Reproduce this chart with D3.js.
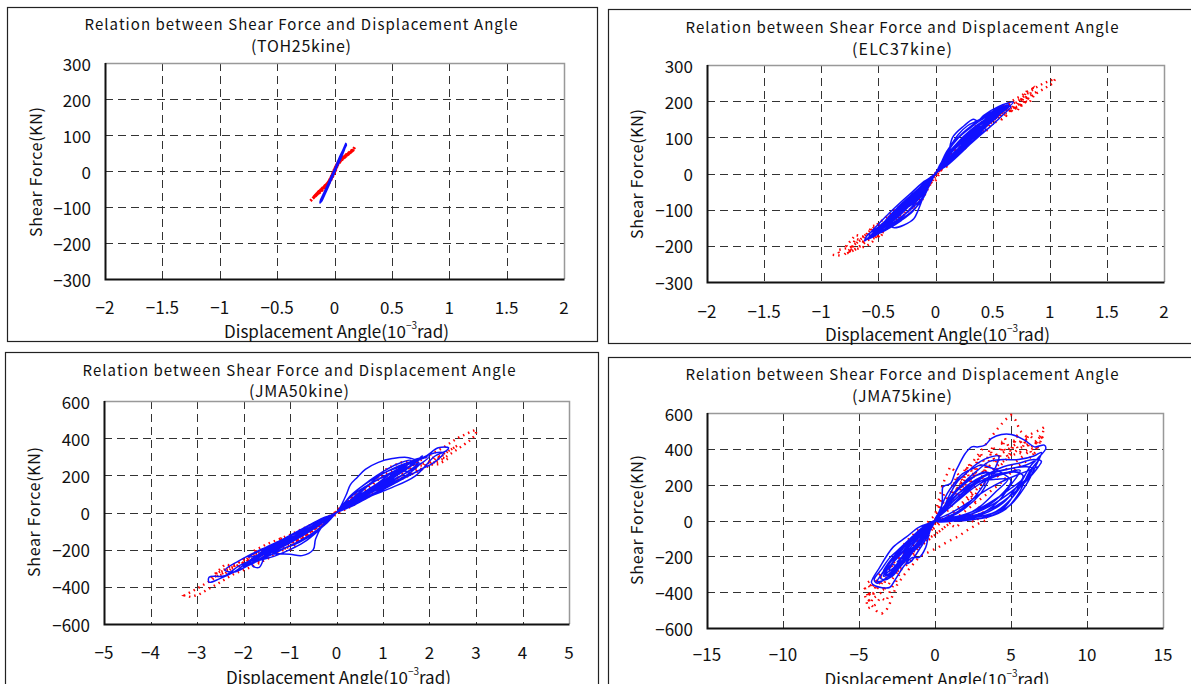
<!DOCTYPE html>
<html>
<head>
<meta charset="utf-8">
<script src="https://cdn.jsdelivr.net/npm/d3@7"></script>
<style>
  body { margin: 0; background: #fff; }
  svg { display: block; }
  text { font-family: "Noto Sans CJK JP", "Noto Sans", sans-serif; fill: #111; }
</style>
</head>
<body>
<svg id="chart" width="1191" height="684"></svg>
<script>
// ---- data: displacement angle (10^-3 rad), shear force (KN) ----
// blue = solid line series, red = dotted line series
var toh_blue = [[0,0],[0.05,38],[0.10,75],[0.06,44],[0.01,8],[-0.04,-30],[-0.09,-62],[-0.125,-88],[-0.10,-70],[-0.05,-36],[0,-2],[0.04,30],[0.08,58],[0.05,36],[0,2],[-0.05,-34],[-0.11,-76],[-0.07,-50],[-0.02,-14],[0.03,22],[0.07,52],[0.09,66],[0.04,28],[-0.02,-12],[-0.08,-56],[-0.12,-82],[-0.06,-42],[0,0],
  [0.05,34],[0.095,70],[0.055,42],[0.005,4],[-0.05,-38],[-0.115,-84],[-0.08,-58],[-0.03,-22],[0.02,14],[0.06,46],[0.1,72],[0.05,40],[0,0]];
var toh_red = [[-0.21,-83],[-0.17,-70],[-0.12,-55],[-0.08,-42],[-0.05,-30],[-0.02,-10],[0,5],[0.02,18],[0.05,30],[0.09,40],[0.13,50],[0.17,60],[0.175,65],[0.14,54],[0.1,44],[0.06,34],[0.03,24],[0.01,12],[-0.01,-4],[-0.03,-18],[-0.06,-34],[-0.1,-46],[-0.15,-62],[-0.19,-76],[-0.16,-68],[-0.11,-50],[-0.07,-38],[-0.03,-22],[0,-2],[0.02,14],[0.06,30],[0.11,44],[0.15,55],[0.12,48],[0.07,36],[0.03,22],[0,0],
  [-0.04,-26],[-0.09,-44],[-0.14,-58],[-0.18,-72],[-0.13,-60],[-0.08,-46],[-0.04,-30],[0,-6],[0.03,20],[0.07,34],[0.12,46],[0.16,57],[0.13,52],[0.08,40],[0.04,28],[0.01,10],[0,0]];

var elc_blue = [[0,0],[0.1,38],[0.2,70],[0.3,100],[0.4,128],[0.48,150],[0.4,120],[0.3,88],[0.2,58],[0.1,28],[0,0],
  [-0.1,-35],[-0.2,-68],[-0.3,-100],[-0.4,-130],[-0.32,-98],[-0.22,-66],[-0.12,-34],[0,0],
  [0.1,42],[0.15,100],[0.25,132],[0.33,150],[0.37,145],[0.42,160],[0.55,185],[0.68,197],[0.62,178],[0.5,150],[0.38,118],[0.25,80],[0.12,40],[0,2],
  [-0.1,-60],[-0.15,-100],[-0.19,-125],[-0.28,-143],[-0.36,-150],[-0.46,-140],[-0.55,-165],[-0.62,-187],[-0.6,-172],[-0.5,-148],[-0.38,-115],[-0.25,-78],[-0.12,-40],[0,0],
  [0.12,55],[0.22,90],[0.35,125],[0.5,160],[0.62,185],[0.55,162],[0.42,128],[0.3,95],[0.18,58],[0.06,18],[0,0],
  [-0.1,-42],[-0.22,-85],[-0.35,-120],[-0.48,-152],[-0.56,-175],[-0.5,-158],[-0.38,-122],[-0.25,-85],[-0.12,-45],[0,0],
  [0.1,45],[0.2,82],[0.3,112],[0.45,150],[0.58,180],[0.5,155],[0.38,120],[0.26,85],[0.14,46],[0,0],
  [-0.12,-48],[-0.25,-95],[-0.4,-135],[-0.5,-160],[-0.42,-130],[-0.3,-95],[-0.15,-52],[0,-2],
  [0.08,35],[0.18,72],[0.3,108],[0.4,130],[0.34,108],[0.22,72],[0.1,32],[0,0],
  [-0.08,-35],[-0.18,-72],[-0.3,-110],[-0.36,-122],[-0.28,-90],[-0.16,-55],[-0.05,-18],[0,0],
  [0.1,48],[0.2,85],[0.32,120],[0.52,170],[0.64,190],[0.56,166],[0.44,135],[0.3,98],[0.15,50],[0,0],
  [-0.1,-45],[-0.2,-80],[-0.32,-118],[-0.45,-150],[-0.58,-180],[-0.52,-160],[-0.4,-125],[-0.26,-82],[-0.1,-32],[0,0],
  [0.05,30],[0.15,62],[0.25,90],[0.35,118],[0.45,142],[0.54,168],[0.47,140],[0.36,108],[0.24,72],[0.12,36],[0,0],
  [-0.06,-28],[-0.16,-62],[-0.26,-92],[-0.38,-125],[-0.46,-148],[-0.4,-126],[-0.3,-96],[-0.18,-60],[-0.06,-22],[0,0],
  [0.1,50],[0.2,88],[0.3,118],[0.4,142],[0.5,162],[0.6,182],[0.52,158],[0.4,126],[0.28,90],[0.16,52],[0,0],
  [-0.1,-50],[-0.2,-90],[-0.3,-122],[-0.42,-148],[-0.52,-170],[-0.6,-182],[-0.54,-164],[-0.42,-134],[-0.3,-100],[-0.18,-62],[-0.06,-20],[0,0],
  [0.12,70],[0.2,108],[0.28,132],[0.38,148],[0.5,172],[0.6,186],[0.5,158],[0.38,124],[0.26,86],[0.12,40],[0,0],
  [-0.05,-25],[-0.12,-55],[-0.22,-86],[-0.32,-112],[-0.26,-84],[-0.16,-50],[-0.06,-18],[0,0],
  [0.08,40],[0.16,74],[0.26,104],[0.36,126],[0.44,145],[0.38,120],[0.28,88],[0.16,52],[0.06,18],[0,0],
  [0.1,25],[0.2,50],[0.3,80],[0.4,108],[0.5,135],[0.6,165],[0.66,185],[0.6,185],[0.5,170],[0.4,150],[0.3,128],[0.2,100],[0.1,62],[0,0],
  [-0.1,-22],[-0.2,-50],[-0.3,-78],[-0.4,-108],[-0.5,-140],[-0.58,-170],[-0.52,-168],[-0.42,-150],[-0.32,-130],[-0.22,-108],[-0.12,-75],[0,0],
  [0.1,30],[0.2,60],[0.3,92],[0.4,118],[0.5,145],[0.55,160],[0.5,165],[0.4,148],[0.3,125],[0.2,98],[0.1,58],[0,0],
  [-0.1,-28],[-0.2,-58],[-0.3,-88],[-0.4,-120],[-0.48,-148],[-0.42,-145],[-0.32,-125],[-0.22,-100],[-0.12,-68],[0,0],
  [0.06,18],[0.16,45],[0.26,72],[0.36,100],[0.44,122],[0.38,120],[0.28,105],[0.18,80],[0.08,45],[0,0],
  [-0.06,-20],[-0.16,-48],[-0.26,-78],[-0.34,-100],[-0.28,-98],[-0.18,-80],[-0.08,-45],[0,0],
  [0.15,80],[0.25,115],[0.35,140],[0.45,160],[0.55,178],[0.5,150],[0.4,115],[0.3,82],[0.2,50],[0.1,22],[0,0],
  [-0.12,-70],[-0.2,-105],[-0.3,-130],[-0.4,-150],[-0.5,-165],[-0.45,-135],[-0.35,-100],[-0.25,-70],[-0.15,-42],[-0.05,-12],[0,0]];
var elc_red = [[-0.9,-225],[-0.83,-227],[-0.86,-212],[-0.75,-205],[-0.68,-190],[-0.6,-170],[-0.5,-150],[-0.4,-125],[-0.3,-100],[-0.2,-72],[-0.1,-52],[-0.05,-30],[0,-10],[0.05,15],[0.15,45],[0.25,75],[0.35,110],[0.45,140],[0.55,165],[0.62,185],[0.72,200],[0.8,220],[0.88,238],[0.95,250],[1.05,262],[1.02,248],[0.9,225],[0.8,205],[0.7,185],[0.6,170],[0.5,150],[0.4,125],[0.3,98],[0.2,62],[0.1,30],[0,-5],[-0.08,-50],[-0.12,-75],[-0.2,-95],[-0.3,-115],[-0.4,-140],[-0.5,-165],[-0.55,-188],[-0.6,-200],[-0.7,-210],[-0.8,-225],[-0.7,-195],[-0.58,-160],[-0.45,-125],[-0.33,-95],[-0.2,-60],[-0.08,-25],[0.02,8],[0.15,50],[0.3,95],[0.42,128],[0.55,158],[0.7,180],[0.8,200],[0.85,235],[0.75,215],[0.6,188],[0.5,170],[0.4,140],[0.28,100],[0.15,58],[0.04,18],[0,0],
  [0.1,20],[0.18,60],[0.26,70],[0.34,115],[0.42,118],[0.5,160],[0.58,150],[0.65,190],[0.72,175],[0.8,230],[0.78,190],[0.6,175],[0.52,140],[0.45,150],[0.36,100],[0.28,95],[0.2,55],[0.1,40],[0,-20],[-0.1,-35],[-0.15,-80],[-0.25,-75],[-0.32,-120],[-0.4,-115],[-0.48,-160],[-0.55,-150],[-0.62,-190],[-0.7,-180],[-0.75,-215],[-0.65,-200],[-0.55,-170],[-0.48,-175],[-0.4,-130],[-0.3,-110],[-0.22,-70],[-0.12,-60],[0,0],
  [0.2,80],[0.3,90],[0.4,140],[0.5,140],[0.6,190],[0.68,170],[0.75,205],[0.82,195],[0.88,225],[0.8,210],[0.7,195],[0.62,160],[0.55,175],[0.45,120],[0.35,130],[0.25,80],[0.12,50],[0,0],[-0.15,-45],[-0.25,-90],[-0.35,-95],[-0.45,-140],[-0.55,-145],[-0.62,-175],[-0.7,-170],[-0.78,-200],[-0.72,-215],[-0.6,-185],[-0.5,-175],[-0.42,-150],[-0.3,-120],[-0.2,-95],[-0.1,-55],[0,0]];

var jma50_blue = [[0,0],[0.3,50],[0.6,100],[0.9,150],[1.2,195],[0.9,140],[0.6,90],[0.3,40],[0,0],
  [-0.3,-45],[-0.6,-95],[-0.9,-140],[-1.2,-175],[-0.9,-130],[-0.6,-85],[-0.3,-40],[0,0],
  [0.2,90],[0.3,150],[0.45,190],[0.62,232],[0.9,270],[1.2,290],[1.55,295],[1.76,268],[1.5,215],[1.2,170],[0.9,130],[0.6,90],[0.3,45],[0,0],
  [-0.3,-70],[-0.45,-143],[-0.5,-200],[-0.74,-232],[-1.0,-225],[-1.31,-223],[-1.52,-232],[-1.66,-295],[-1.81,-286],[-1.7,-230],[-1.4,-180],[-1.1,-140],[-0.8,-105],[-0.5,-70],[-0.2,-25],[0,0],
  [0.4,70],[0.8,130],[1.2,200],[1.69,286],[1.9,300],[2.19,348],[2.41,348],[2.35,330],[2.12,304],[1.69,196],[1.19,134],[0.8,95],[0.4,50],[0,0],
  [-0.4,-60],[-0.8,-120],[-1.2,-170],[-1.6,-230],[-2.09,-286],[-2.4,-340],[-2.74,-348],[-2.74,-375],[-2.52,-357],[-2.2,-320],[-1.88,-260],[-1.5,-200],[-1.1,-150],[-0.7,-100],[-0.3,-45],[0,0],
  [0.3,60],[0.7,120],[1.0,170],[1.4,230],[1.8,265],[1.5,200],[1.1,150],[0.7,100],[0.3,40],[0,0],
  [-0.3,-50],[-0.7,-110],[-1.1,-165],[-1.5,-215],[-1.9,-240],[-1.6,-200],[-1.2,-155],[-0.8,-115],[-0.4,-60],[0,0],
  [0.4,80],[0.7,150],[1.0,210],[1.3,240],[1.6,260],[1.3,200],[1.0,150],[0.6,95],[0.3,50],[0,0],
  [-0.4,-70],[-0.8,-135],[-1.2,-190],[-1.55,-230],[-1.3,-185],[-0.9,-140],[-0.5,-80],[0,0],
  [0.5,90],[1.0,160],[1.5,235],[1.85,305],[1.6,250],[1.2,185],[0.7,110],[0.3,45],[0,0],
  [-0.5,-75],[-1.0,-150],[-1.4,-200],[-1.8,-265],[-1.5,-215],[-1.1,-160],[-0.6,-95],[0,0],
  [0.3,55],[0.6,110],[0.9,160],[1.2,215],[1.5,250],[1.3,205],[1.0,155],[0.7,105],[0.35,50],[0,0],
  [-0.35,-55],[-0.7,-110],[-1.05,-160],[-1.4,-205],[-1.7,-240],[-1.45,-200],[-1.1,-155],[-0.75,-110],[-0.4,-60],[0,0],
  [0.25,45],[0.55,95],[0.85,140],[1.1,185],[0.9,145],[0.6,100],[0.3,50],[0,0],
  [-0.25,-40],[-0.55,-90],[-0.85,-135],[-1.1,-170],[-0.85,-130],[-0.55,-85],[-0.25,-38],[0,0],
  [0.5,110],[0.9,180],[1.3,230],[1.7,275],[2.0,300],[1.8,260],[1.4,200],[1.0,150],[0.5,80],[0,0],
  [-0.5,-90],[-0.9,-150],[-1.3,-200],[-1.7,-255],[-2.0,-290],[-1.75,-250],[-1.35,-195],[-0.9,-140],[-0.45,-70],[0,0],
  [0.15,40],[0.4,80],[0.7,125],[0.5,85],[0.25,45],[0,0],[-0.2,-35],[-0.45,-75],[-0.75,-120],[-0.5,-80],[-0.25,-40],[0,0],
  [0.3,30],[0.6,70],[0.9,110],[1.2,150],[1.5,190],[1.8,230],[2.1,270],[2.3,320],[2.1,320],[1.8,290],[1.5,265],[1.2,235],[0.9,195],[0.6,150],[0.3,90],[0,0],
  [-0.3,-30],[-0.6,-70],[-0.9,-110],[-1.2,-150],[-1.5,-185],[-1.8,-220],[-2.1,-260],[-2.4,-310],[-2.2,-320],[-1.9,-285],[-1.6,-250],[-1.3,-215],[-1.0,-180],[-0.7,-140],[-0.4,-90],[0,0],
  [0.3,40],[0.7,90],[1.0,130],[1.3,170],[1.6,210],[1.4,225],[1.1,200],[0.8,165],[0.5,120],[0.2,60],[0,0],
  [-0.3,-35],[-0.7,-85],[-1.0,-125],[-1.3,-165],[-1.6,-200],[-1.4,-215],[-1.1,-190],[-0.8,-160],[-0.5,-115],[-0.2,-55],[0,0],
  [0.4,110],[0.7,170],[1.0,220],[1.3,260],[1.6,280],[1.4,230],[1.1,175],[0.8,120],[0.4,60],[0,0],
  [-0.4,-100],[-0.7,-160],[-1.0,-200],[-1.4,-240],[-1.8,-260],[-1.5,-210],[-1.1,-160],[-0.7,-100],[-0.3,-40],[0,0]];
var jma50_red = [[0,0],[0.5,80],[1.0,150],[1.4,230],[1.8,280],[2.3,350],[2.6,400],[2.85,430],[3.0,446],[3.0,420],[2.85,384],[2.6,340],[2.3,290],[1.9,240],[1.4,180],[1.0,130],[0.5,60],[0,-10],[-0.5,-90],[-1.0,-150],[-1.5,-210],[-2.0,-270],[-2.4,-320],[-2.8,-380],[-3.0,-410],[-3.27,-446],[-3.13,-455],[-2.95,-440],[-2.6,-390],[-2.2,-330],[-1.8,-290],[-1.3,-225],[-0.8,-150],[-0.3,-60],[0,5],[0.4,90],[0.8,170],[1.1,240],[1.4,270],[1.8,280],[1.5,230],[1.1,180],[0.7,120],[0.3,50],[-0.2,-30],[-0.6,-120],[-1.0,-170],[-1.4,-200],[-1.8,-210],[-1.5,-170],[-1.0,-120],[-0.5,-60],[0,0],[0.6,130],[1.0,200],[1.4,250],[1.7,260],[2.1,270],[2.4,330],[2.6,360],[2.2,300],[1.8,230],[1.2,160],[0.6,90],[0,0],[-0.6,-110],[-1.2,-200],[-1.7,-250],[-2.2,-290],[-2.6,-330],[-2.2,-280],[-1.6,-210],[-1.0,-140],[-0.4,-70],[0,0],
  [0.3,60],[0.6,70],[0.9,160],[1.2,150],[1.5,240],[1.8,230],[2.1,300],[2.4,290],[2.2,260],[1.7,250],[1.3,180],[1.0,200],[0.7,130],[0.4,100],[0,10],[-0.3,-70],[-0.6,-80],[-0.9,-160],[-1.2,-140],[-1.5,-230],[-1.8,-220],[-2.1,-290],[-2.4,-280],[-2.7,-350],[-2.4,-330],[-2.0,-250],[-1.7,-270],[-1.3,-180],[-1.0,-200],[-0.6,-110],[0,0]];

var jma75_blue = [[0,0],[0.37,56],[0.48,112],[0.52,187],[0.69,196],[1.02,206],[1.34,271],[1.56,308],[1.99,374],[2.42,411],[2.86,411],[3.29,421],[3.72,458],[4.37,480],[5.02,480],[5.89,449],[6.54,411],[7.19,421],[7.29,402],[6.75,346],[6.32,308],[5.24,150],[4.59,75],[3.72,37],[2.86,9],[1.13,0],[0,0],
  [-0.39,-75],[-0.61,-150],[-1.04,-206],[-1.47,-206],[-2.0,-250],[-2.66,-336],[-2.99,-374],[-3.96,-364],[-4.18,-346],[-3.64,-262],[-2.77,-150],[-1.9,-93],[-1.04,-37],[0,0],
  [1.0,90],[2.0,170],[3.0,235],[4.0,270],[5.0,290],[6.0,310],[6.8,340],[6.2,270],[5.5,150],[4.6,60],[3.5,20],[2.0,5],[0,0],
  [-1.0,-60],[-2.0,-140],[-3.0,-240],[-3.6,-320],[-3.2,-330],[-2.5,-270],[-1.8,-200],[-1.0,-140],[0,0],
  [1.2,120],[2.2,200],[3.2,250],[4.4,280],[6.0,300],[6.4,290],[5.8,210],[5.0,120],[4.0,50],[2.5,15],[0,0],
  [-1.2,-70],[-2.2,-160],[-3.0,-260],[-3.4,-310],[-2.8,-290],[-2.0,-220],[-1.2,-150],[-0.5,-80],[0,0],
  [1.5,170],[2.5,240],[3.2,270],[4.0,260],[5.2,270],[5.8,250],[5.3,180],[4.5,100],[3.0,30],[1.5,5],[0,0],
  [-0.8,-50],[-1.6,-110],[-2.5,-200],[-3.0,-280],[-2.6,-260],[-2.0,-230],[-1.5,-180],[-0.8,-110],[0,0],
  [0.8,150],[1.2,200],[1.8,260],[2.5,290],[3.0,310],[3.5,300],[4.5,260],[5.0,220],[4.2,130],[3.0,60],[1.5,10],[0,0],
  [-1.0,-80],[-2.0,-180],[-2.7,-300],[-2.4,-270],[-1.6,-190],[-0.9,-100],[0,0],
  [1.0,110],[2.0,180],[3.0,220],[4.0,230],[4.8,230],[4.0,160],[3.0,80],[2.0,30],[1.0,5],[0,0],
  [-0.6,-60],[-1.2,-130],[-2.0,-190],[-2.5,-230],[-2.0,-200],[-1.3,-150],[-0.6,-80],[0,0],
  [-0.5,-40],[-1.0,-90],[-1.6,-150],[-2.2,-210],[-2.8,-270],[-3.3,-300],[-3.0,-300],[-2.5,-260],[-1.9,-210],[-1.3,-160],[-0.6,-90],[0,0],
  [-0.7,-70],[-1.4,-150],[-2.1,-230],[-2.8,-310],[-3.8,-340],[-3.5,-300],[-2.6,-220],[-1.8,-150],[-1.0,-80],[0,0],
  [-0.4,-50],[-0.9,-110],[-1.5,-180],[-1.9,-240],[-1.6,-230],[-1.1,-170],[-0.5,-90],[0,0],
  [0.8,60],[1.8,140],[2.8,210],[3.8,250],[4.8,270],[5.6,280],[5.0,200],[4.2,110],[3.2,45],[2.0,10],[0,0],
  [0.6,80],[1.4,170],[2.2,230],[3.0,260],[3.6,265],[3.2,200],[2.5,120],[1.5,50],[0,0],
  [1.2,140],[2.0,220],[2.8,280],[3.6,330],[4.5,340],[5.5,340],[6.5,360],[7.0,380],[6.6,300],[6.0,200],[5.0,90],[3.8,30],[2.0,0],[0,0],
  [1.0,10],[2.0,20],[3.0,40],[4.0,80],[5.0,140],[6.0,220],[6.8,300],[7.0,330],[6.5,340],[5.5,320],[4.5,300],[3.5,260],[2.5,200],[1.5,130],[0.5,50],[0,0],
  [1.0,15],[2.0,35],[3.0,70],[4.0,120],[5.0,180],[5.8,240],[5.5,270],[4.5,260],[3.5,230],[2.5,180],[1.5,110],[0.5,40],[0,0],
  [0.5,60],[1.0,150],[1.5,220],[2.0,260],[2.5,300],[3.0,330],[3.5,350],[4.2,360],[4.0,300],[3.5,220],[3.0,150],[2.0,70],[1.0,20],[0,0],
  [1.0,40],[2.0,90],[3.0,150],[4.0,200],[5.0,240],[6.2,280],[6.8,300],[6.0,230],[5.0,160],[4.0,100],[3.0,55],[2.0,25],[1.0,8],[0,0],
  [-0.5,-20],[-1.0,-50],[-1.5,-90],[-2.0,-130],[-2.5,-170],[-3.0,-210],[-3.5,-270],[-4.0,-330],[-3.8,-350],[-3.2,-320],[-2.6,-280],[-2.0,-230],[-1.4,-170],[-0.8,-110],[-0.3,-50],[0,0],
  [-0.6,-30],[-1.2,-70],[-1.8,-120],[-2.4,-170],[-3.0,-230],[-3.4,-290],[-3.1,-300],[-2.6,-260],[-2.0,-210],[-1.4,-160],[-0.8,-100],[0,0],
  [-0.5,-30],[-1.0,-70],[-1.6,-120],[-2.2,-180],[-2.8,-240],[-2.5,-250],[-2.0,-210],[-1.4,-160],[-0.8,-110],[-0.3,-50],[0,0]];
var jma75_red = [[0,0],[1.0,120],[2.0,250],[2.6,340],[3.3,420],[4.0,500],[4.6,560],[5.0,589],[5.3,560],[5.6,500],[6.0,470],[6.5,490],[7.0,510],[7.2,523],[7.0,460],[6.5,420],[6.0,390],[5.5,380],[5.0,360],[4.5,330],[4.0,300],[3.5,250],[3.0,200],[2.5,150],[2.0,100],[1.5,60],[1.0,30],[0.5,10],[0,-20],[-0.5,-60],[-1.0,-110],[-1.5,-170],[-2.0,-230],[-2.5,-290],[-3.0,-350],[-3.5,-400],[-4.0,-430],[-4.5,-400],[-4.3,-460],[-3.8,-510],[-3.5,-520],[-3.2,-500],[-3.0,-470],[-2.8,-420],[-2.5,-360],[-2.0,-300],[-1.5,-250],[-1.0,-200],[-0.5,-180],[0.2,-150],[0.8,-120],[1.5,-90],[2.2,-50],[3.0,-10],[3.5,5],[3.0,60],[2.5,120],[2.0,200],[1.5,260],[1.0,300],[0.5,200],[0.2,100],[0,30],[-0.6,-20],[-1.2,-60],[-1.8,-110],[-2.4,-170],[-3.0,-240],[-3.5,-300],[-4.2,-380],[-4.5,-350],[-3.8,-310],[-3.0,-260],[-2.2,-190],[-1.5,-140],[-0.8,-90],[0,-40],[0.8,20],[1.6,80],[2.4,160],[3.2,260],[3.8,330],[4.5,380],[5.2,420],[5.8,450],[6.2,430],[5.5,400],[4.8,350],[4.0,280],[3.2,200],[2.5,130],[1.8,60],[1.0,20],[0,0],
  [0.6,150],[1.0,90],[1.4,250],[1.8,180],[2.2,320],[2.6,230],[3.0,380],[3.4,280],[3.8,420],[4.2,330],[4.6,460],[5.0,380],[5.4,470],[5.8,420],[6.2,480],[6.6,440],[7.0,480],[6.4,400],[5.8,360],[5.2,320],[4.6,280],[4.2,240],[3.6,300],[3.0,220],[2.6,280],[2.0,160],[1.6,200],[1.0,60],[0.4,40],[-0.4,-80],[-1.0,-60],[-1.5,-200],[-2.0,-150],[-2.5,-300],[-3.0,-230],[-3.4,-380],[-3.8,-330],[-4.2,-460],[-4.6,-420],[-4.4,-490],[-3.9,-470],[-3.6,-430],[-3.2,-450],[-2.9,-380],[-2.6,-350],[-2.2,-270],[-1.6,-230],[-1.0,-140],[-0.4,-100],[0.3,-60],[0.9,-20],[1.4,-40],[2.0,20],[2.6,-10],[3.2,40],[0,0],
  [0.4,120],[0.8,60],[1.2,220],[1.6,140],[2.0,300],[2.4,200],[2.8,350],[3.2,260],[3.6,400],[4.0,320],[4.4,430],[4.8,350],[5.2,440],[5.6,380],[6.0,450],[6.4,360],[6.8,420],[7.1,470],[6.6,380],[6.0,330],[5.4,300],[4.8,250],[4.2,200],[3.6,160],[3.0,120],[2.4,80],[1.8,40],[1.2,0],[0.6,-40],[0,-80],[-0.6,-120],[-1.2,-160],[-1.8,-200],[-2.4,-250],[-3.0,-300],[-3.6,-360],[-4.2,-420],[-4.6,-380],[-4.0,-350],[-3.4,-300],[-2.8,-240],[-2.2,-200],[-1.6,-150],[-1.0,-100],[-0.4,-50],[0,0]];

// tick values
var ticks_x1 = [-2, -1.5, -1, -0.5, 0, 0.5, 1, 1.5, 2];
var ticks_x3 = [-5, -4, -3, -2, -1, 0, 1, 2, 3, 4, 5];
var ticks_x4 = [-15, -10, -5, 0, 5, 10, 15];
var ticks_y300 = [-300, -200, -100, 0, 100, 200, 300];
var ticks_y600 = [-600, -400, -200, 0, 200, 400, 600];

var titleText = "Relation between Shear Force and Displacement Angle";
var panels = [
  { sub: "(TOH25kine)", blue: toh_blue, red: toh_red, xt: ticks_x1, yt: ticks_y300, bw: 2.4, rw: 3, rdash: "2,1.5",
    frame: [7, 7, 590, 334], plot: [105, 564, 63, 279], titleY: 23, subY: 45, tickY: 306, xtY: 330, ytX: 35, ytY: 172 },
  { sub: "(ELC37kine)", blue: elc_blue, red: elc_red, xt: ticks_x1, yt: ticks_y300, bw: 1.5, rw: 2.4, rdash: "1.5,4",
    frame: [608, 9, 600, 334], plot: [707, 1164, 65, 282], titleY: 26, subY: 48, tickY: 310, xtY: 333, ytX: 636, ytY: 174 },
  { sub: "(JMA50kine)", blue: jma50_blue, red: jma50_red, xt: ticks_x3, yt: ticks_y600, bw: 1.5, rw: 2.4, rdash: "1.5,4",
    frame: [5, 352, 593, 400], plot: [104, 569, 401, 624], titleY: 369, subY: 390, tickY: 651, xtY: 676, ytX: 33, ytY: 512 },
  { sub: "(JMA75kine)", blue: jma75_blue, red: jma75_red, xt: ticks_x4, yt: ticks_y600, bw: 1.5, rw: 2.4, rdash: "1.5,5",
    frame: [608, 357, 600, 400], plot: [707, 1163, 413, 628], titleY: 373, subY: 395, tickY: 653, xtY: 678, ytX: 636, ytY: 520 }
];

var svg = d3.select("#chart");

function fmt(v) {
  return (v < 0 ? "\u2212" : "") + Math.abs(v);
}

panels.forEach(function (p) {
  var g = svg.append("g");
  var l = p.plot[0], r = p.plot[1], t = p.plot[2], b = p.plot[3];

  g.append("rect")
    .attr("x", p.frame[0] + 0.5).attr("y", p.frame[1] + 0.5)
    .attr("width", p.frame[2]).attr("height", p.frame[3])
    .attr("fill", "#fff").attr("stroke", "#222").attr("stroke-width", 1.2);

  var x = d3.scaleLinear().domain(d3.extent(p.xt)).range([l, r]);
  var y = d3.scaleLinear().domain(d3.extent(p.yt)).range([b, t]);

  // dashed grid
  g.selectAll(".vgrid").data(p.xt.slice(1, -1)).join("line").attr("class", "vgrid")
    .attr("x1", function (d) { return Math.round(x(d)) + 0.5; })
    .attr("x2", function (d) { return Math.round(x(d)) + 0.5; })
    .attr("y1", t).attr("y2", b)
    .attr("stroke", "#333").attr("stroke-dasharray", "8,5");
  g.selectAll(".hgrid").data(p.yt.slice(1, -1)).join("line").attr("class", "hgrid")
    .attr("y1", function (d) { return Math.round(y(d)) + 0.5; })
    .attr("y2", function (d) { return Math.round(y(d)) + 0.5; })
    .attr("x1", l).attr("x2", r)
    .attr("stroke", "#333").attr("stroke-dasharray", "8,5");

  // top / right light border, left / bottom black axis
  g.append("path").attr("d", "M" + l + "," + (t + 0.5) + "H" + (r + 0.5) + "V" + b)
    .attr("fill", "none").attr("stroke", "#999").attr("stroke-width", 1.5);
  g.append("path").attr("d", "M" + (l + 0.5) + "," + t + "V" + (b + 0.5) + "H" + (r + 0.5))
    .attr("fill", "none").attr("stroke", "#111").attr("stroke-width", 2);

  var line = d3.line().x(function (d) { return x(d[0]); }).y(function (d) { return y(d[1]); });

  g.append("path").datum(p.red)
    .attr("d", line)
    .attr("fill", "none").attr("stroke", "#ff0000").attr("stroke-width", p.rw)
    .attr("stroke-dasharray", p.rdash);
  g.append("path").datum(p.blue)
    .attr("d", line.curve(d3.curveCatmullRom.alpha(0.5)))
    .attr("fill", "none").attr("stroke", "#1010ff").attr("stroke-width", p.bw);

  // tick labels
  g.selectAll(".xl").data(p.xt).join("text").attr("class", "xl")
    .attr("x", function (d) { return x(d); }).attr("y", p.tickY)
    .attr("text-anchor", "middle").attr("dominant-baseline", "central")
    .style("font-size", "17px").text(fmt);
  g.selectAll(".yl").data(p.yt).join("text").attr("class", "yl")
    .attr("x", l - 14).attr("y", function (d) { return y(d); })
    .attr("text-anchor", "end").attr("dominant-baseline", "central")
    .style("font-size", "17px").text(fmt);

  // titles
  var cx = p.frame[0] + 294;
  g.append("text").attr("x", cx).attr("y", p.titleY)
    .attr("text-anchor", "middle").attr("dominant-baseline", "central")
    .attr("textLength", 433).attr("lengthAdjust", "spacing")
    .style("font-size", "15px").text(titleText);
  g.append("text").attr("x", cx).attr("y", p.subY)
    .attr("text-anchor", "middle").attr("dominant-baseline", "central")
    .attr("textLength", 100).attr("lengthAdjust", "spacing")
    .style("font-size", "16px").text(p.sub);

  var xt = g.append("text").attr("x", x(0) + 2).attr("y", p.xtY)
    .attr("text-anchor", "middle").attr("dominant-baseline", "central")
    .style("font-size", "17px");
  xt.append("tspan").text("Displacement Angle(10");
  xt.append("tspan").attr("dy", -6).style("font-size", "10px").text("\u22123");
  xt.append("tspan").attr("dy", 6).text("rad)");

  g.append("text")
    .attr("transform", "translate(" + p.ytX + "," + p.ytY + ") rotate(-90)")
    .attr("text-anchor", "middle").attr("dominant-baseline", "central")
    .attr("textLength", 130).attr("lengthAdjust", "spacing")
    .style("font-size", "16px").text("Shear Force(KN)");
});
</script>
</body>
</html>
